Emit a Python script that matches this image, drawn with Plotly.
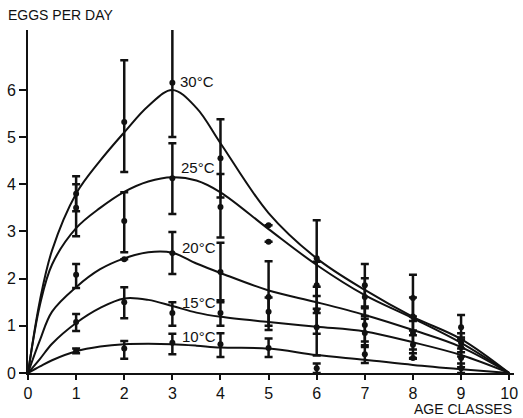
import plotly.graph_objects as go

# Age classes at which egg counts were sampled
ages = [1, 2, 3, 4, 5, 6, 7, 8, 9]

# Mean eggs per day and error bar extents (upper / lower) per temperature;
# None marks a mean drawn without a visible bar
temps = ["30°C", "25°C", "20°C", "15°C", "10°C"]

mean_30 = [3.80, 5.32, 6.15, 4.55, 2.78, 2.43, 1.86, 1.59, 0.97]
up_30 = [0.37, 1.31, 1.15, 0.83, None, 0.81, 0.45, 0.49, 0.26]
dn_30 = [0.37, 1.06, 1.15, 0.83, None, 0.80, 0.45, 0.49, 0.26]

mean_25 = [3.50, 3.22, 4.13, 3.52, 3.13, 1.86, 1.61, 1.20, 0.64]
up_25 = [0.50, 0.61, 0.74, 0.70, None, 0.50, 0.40, 0.40, 0.20]
dn_25 = [0.60, 0.66, 0.76, 0.65, None, 0.50, 0.40, 0.40, 0.20]

mean_20 = [2.08, 2.41, 2.54, 2.14, 1.61, 1.33, 1.02, 0.85, 0.55]
up_20 = [0.23, None, 0.45, 0.62, 0.76, 0.50, 0.35, 0.35, 0.20]
dn_20 = [0.28, None, 0.44, 0.64, 0.70, 0.50, 0.35, 0.35, 0.20]

mean_15 = [1.08, 1.50, 1.27, 1.27, 1.30, 0.97, 0.85, 0.60, 0.32]
up_15 = [0.17, 0.32, 0.23, 0.27, 0.30, 0.30, 0.30, 0.30, 0.20]
dn_15 = [0.19, 0.34, 0.27, 0.27, 0.30, 0.60, 0.30, 0.30, 0.20]

mean_10 = [0.47, 0.52, 0.64, 0.61, 0.53, 0.10, 0.40, 0.32, 0.10]
up_10 = [0.05, 0.16, 0.19, 0.23, 0.20, 0.10, 0.19, 0.10, 0.10]
dn_10 = [0.05, 0.22, 0.24, 0.27, 0.19, 0.10, 0.19, None, 0.10]

# Fitted fecundity curves (knots of the smooth line)
curve_x = [0, 0.25, 0.5, 1, 1.5, 2, 2.5, 3, 3.5, 4, 5, 6, 7, 8, 9, 10]
curve_30 = [0, 1.55, 2.60, 3.80, 4.50, 5.10, 5.66, 6.00, 5.62, 4.87, 3.39, 2.43, 1.76, 1.19, 0.72, 0]
curve_25 = [0, 1.45, 2.30, 3.07, 3.50, 3.84, 4.06, 4.15, 4.08, 3.83, 3.05, 2.29, 1.65, 1.16, 0.64, 0]
curve_20 = [0, 0.70, 1.30, 1.82, 2.20, 2.43, 2.56, 2.55, 2.32, 2.12, 1.75, 1.50, 1.23, 0.91, 0.55, 0]
curve_15 = [0, 0.30, 0.62, 1.06, 1.38, 1.58, 1.55, 1.42, 1.28, 1.19, 1.08, 0.98, 0.88, 0.65, 0.38, 0]
curve_10 = [0, 0.14, 0.27, 0.46, 0.56, 0.61, 0.62, 0.61, 0.58, 0.54, 0.52, 0.38, 0.28, 0.17, 0.08, 0]

# Label anchor positions for each curve
label_x = [3.12, 3.14, 3.15, 3.16, 3.16]
label_y = [6.17, 4.36, 2.67, 1.50, 0.78]

means = [mean_30, mean_25, mean_20, mean_15, mean_10]
ups = [up_30, up_25, up_20, up_15, up_10]
dns = [dn_30, dn_25, dn_20, dn_15, dn_10]
curves = [curve_30, curve_25, curve_20, curve_15, curve_10]

FONT = "Liberation Sans, Arial, sans-serif"
INK = "#111111"

fig = go.Figure()

for name, cy in zip(temps, curves):
    fig.add_trace(go.Scatter(
        x=curve_x, y=cy, mode="lines", name=name,
        line=dict(color=INK, width=2, shape="spline", smoothing=1.0),
        hoverinfo="skip", showlegend=False,
    ))

for name, m, u, d in zip(temps, means, ups, dns):
    fig.add_trace(go.Scatter(
        x=ages, y=m, mode="markers", name=name,
        marker=dict(color=INK, size=6),
        error_y=dict(type="data", symmetric=False, array=u, arrayminus=d,
                     color=INK, thickness=2.5, width=4),
        showlegend=False, cliponaxis=False,
    ))

for name, lx, ly in zip(temps, label_x, label_y):
    fig.add_annotation(x=lx, y=ly, text=name, showarrow=False,
                       xanchor="left", yanchor="middle",
                       font=dict(family=FONT, size=15, color=INK))

fig.add_annotation(xref="paper", yref="paper", x=-0.045, y=1.0, yshift=5,
                   text="EGGS PER DAY", showarrow=False,
                   xanchor="left", yanchor="bottom",
                   font=dict(family=FONT, size=14, color=INK))
fig.add_annotation(xref="paper", yref="paper", x=1.0, y=0, yshift=-26,
                   text="AGE CLASSES", showarrow=False,
                   xanchor="right", yanchor="top",
                   font=dict(family=FONT, size=14, color=INK))

fig.update_layout(
    width=523, height=418,
    margin=dict(l=28, r=5, t=30, b=45),
    paper_bgcolor="white", plot_bgcolor="white",
    font=dict(family=FONT, size=16, color=INK),
    xaxis=dict(range=[0, 10.1], tickvals=list(range(0, 11)),
               showgrid=False, zeroline=False, showline=True,
               linecolor=INK, linewidth=2, ticks="outside", ticklen=5,
               tickwidth=2, tickcolor=INK),
    yaxis=dict(range=[0, 7.27], tickvals=list(range(0, 7)),
               showgrid=False, zeroline=False, showline=True,
               linecolor=INK, linewidth=2, ticks="outside", ticklen=7,
               tickwidth=2, tickcolor=INK),
)

fig.write_html("out.html")
